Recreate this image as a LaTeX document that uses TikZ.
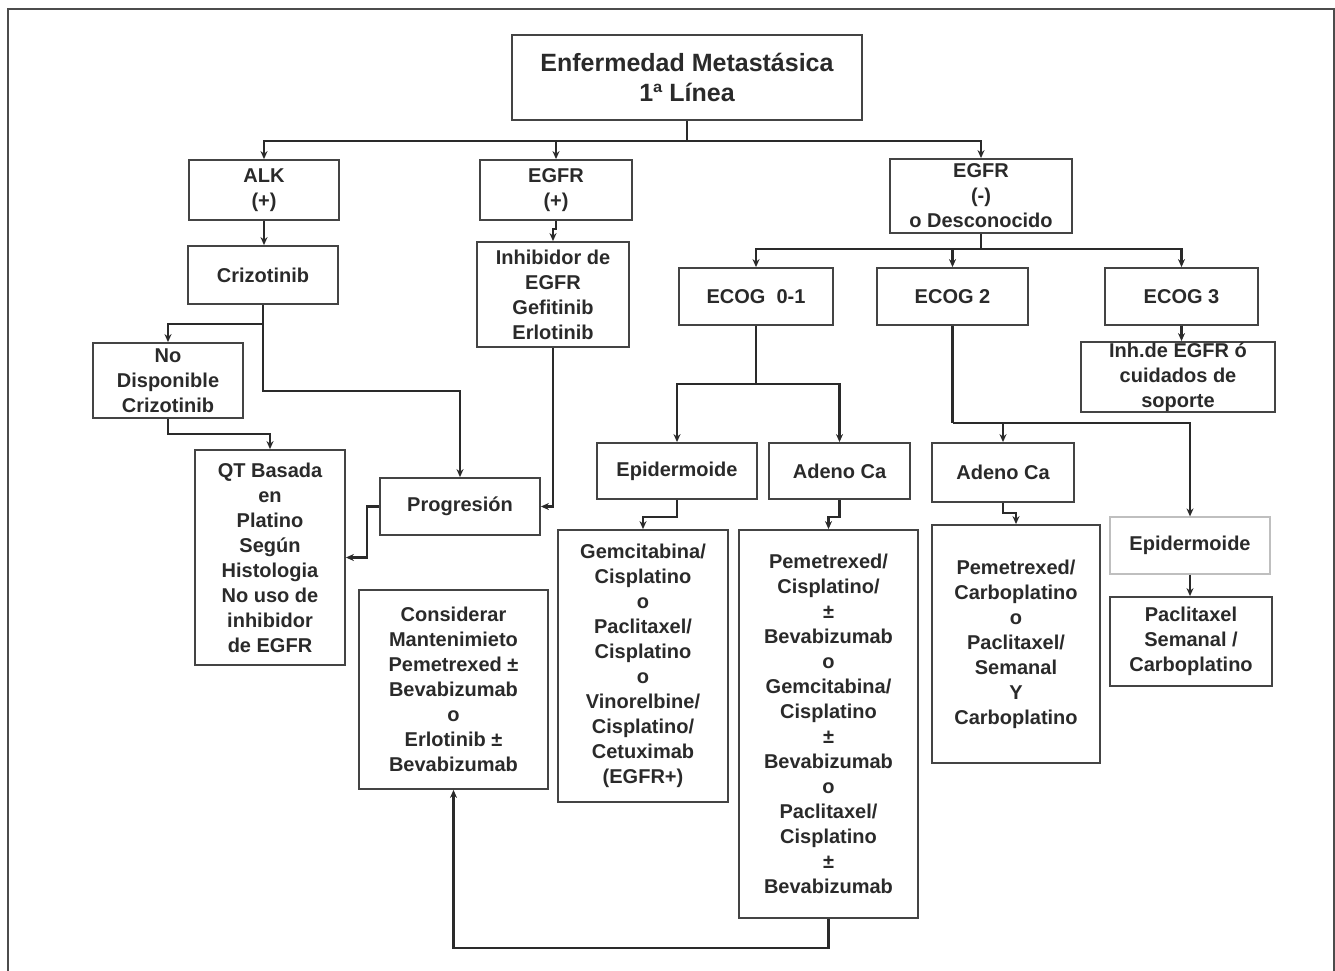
\documentclass[tikz,border=0pt]{standalone}
\usepackage{fontspec}
\setmainfont{Liberation Sans}
\usetikzlibrary{arrows.meta}
\definecolor{ink}{HTML}{2A2A2A}
\definecolor{edge}{HTML}{444444}
\begin{document}
\begin{tikzpicture}[x=1pt,y=-1pt,
  box/.style={draw=edge,line width=1.8,inner sep=0pt,align=center,text=ink,
    font=\fontsize{20}{25}\selectfont\bfseries},
  lightbox/.style={box,draw=black!25,line width=1.2},
  conn/.style={draw=ink,line width=2.2},
  arr/.style={conn,-{Stealth[length=8,width=7]}}]
\useasboundingbox (0,0) rectangle (1335,971);
\draw[line width=2,black!70] (8,971) -- (8,9) -- (1334,9) -- (1334,971);

% nodes
\node[box,minimum width=350,minimum height=85,font=\fontsize{25}{30}\selectfont\bfseries] (title) at (687,77.5) {Enfermedad Metastásica\\1ª Línea};
\node[box,minimum width=150,minimum height=60] (alk) at (264,190) {ALK\\(+)};
\node[box,minimum width=152,minimum height=60] (egfrp) at (556,190) {EGFR\\(+)};
\node[box,minimum width=182,minimum height=74] (egfrn) at (981,196) {EGFR\\(-)\\o Desconocido};
\node[box,minimum width=150,minimum height=58] (criz) at (263,275) {Crizotinib};
\node[box,minimum width=152,minimum height=105] (inh) at (553,294.5) {Inhibidor de\\EGFR\\Gefitinib\\Erlotinib};
\node[box,minimum width=150,minimum height=75] (nodisp) at (168,380.5) {No\\Disponible\\Crizotinib};
\node[box,minimum width=154,minimum height=57] (ecog01) at (756,296.5) {ECOG\ \ 0-1};
\node[box,minimum width=151,minimum height=57] (ecog2) at (952.5,296.5) {ECOG 2};
\node[box,minimum width=153,minimum height=57] (ecog3) at (1181.5,296.5) {ECOG 3};
\node[box,minimum width=194,minimum height=70] (inhs) at (1178,377) {Inh.de EGFR ó\\cuidados de\\soporte};
\node[box,minimum width=150,minimum height=215] (qt) at (270,557.5) {QT Basada\\en\\Platino\\Según\\Histologia\\No uso de\\inhibidor\\de EGFR};
\node[box,minimum width=160,minimum height=57] (prog) at (460,506.5) {Progresión};
\node[box,minimum width=189,minimum height=199] (cons) at (453.5,689.5) {Considerar\\Mantenimieto\\Pemetrexed ±\\Bevabizumab\\o\\Erlotinib ±\\Bevabizumab};
\node[box,minimum width=160,minimum height=56] (epi1) at (677,471) {Epidermoide};
\node[box,minimum width=141,minimum height=56] (ade1) at (839.5,471) {Adeno Ca};
\node[box,minimum width=142,minimum height=59] (ade2) at (1003,472.5) {Adeno Ca};
\node[box,minimum width=170,minimum height=272] (gem) at (643,666) {Gemcitabina/\\Cisplatino\\o\\Paclitaxel/\\Cisplatino\\o\\Vinorelbine/\\Cisplatino/\\Cetuximab\\(EGFR+)};
\node[box,minimum width=179,minimum height=388] (pem) at (828.5,724) {Pemetrexed/\\Cisplatino/\\±\\Bevabizumab\\o\\Gemcitabina/\\Cisplatino\\±\\Bevabizumab\\o\\Paclitaxel/\\Cisplatino\\±\\Bevabizumab};
\node[box,minimum width=168,minimum height=238] (carbo) at (1016,644) {Pemetrexed/\\Carboplatino\\o\\Paclitaxel/\\Semanal\\Y\\Carboplatino};
\node[lightbox,minimum width=160,minimum height=57] (epi2) at (1190,545.5) {Epidermoide};
\node[box,minimum width=162,minimum height=89] (pac) at (1191,641.5) {Paclitaxel\\Semanal /\\Carboplatino};

% connectors
\draw[conn] (title.south) -- ++(0,20) coordinate (tj);
\draw[arr] (tj) -| (alk.north);
\draw[arr] (tj) -| (egfrp.north);
\draw[arr] (tj) -| (egfrn.north);
\draw[arr] (alk.south) -- (alk.south |- criz.north);
\draw[arr] (egfrp.south) -- ++(0,8) -| (inh.north);
\draw[arr] (criz.south) -- ++(0,19) -| (nodisp.north);
\draw[arr] (criz.south) -- ++(0,86) -| (prog.north);
\draw[arr] (nodisp.south) -- ++(0,15) -| (qt.north);
\draw[arr] (inh.south) |- (prog.east);
\draw[arr] (prog.west) -- ++(-12,0) |- (qt.east);
\draw[conn] (egfrn.south) -- ++(0,15) coordinate (ej);
\draw[arr] (ej) -| (ecog01.north);
\draw[arr] (ej) -| (ecog2.north);
\draw[arr] (ej) -| (ecog3.north);
\draw[arr] (ecog3.south) -- (ecog3.south |- inhs.north);
\draw[conn] (ecog01.south) -- ++(0,58) coordinate (e1j);
\draw[arr] (e1j) -| (epi1.north);
\draw[arr] (e1j) -| (ade1.north);
\draw[conn] (ecog2.south) -- ++(0,97) coordinate (e2j);
\draw[arr] (e2j) -| (ade2.north);
\draw[arr] (e2j) -| (epi2.north);
\draw[arr] (epi1.south) -- ++(0,17) -| (gem.north);
\draw[arr] (ade1.south) -- ++(0,17) -| (pem.north);
\draw[arr] (ade2.south) -- ++(0,10) -| (carbo.north);
\draw[arr] (epi2.south) -- (epi2.south |- pac.north);
\draw[arr] (pem.south) -- ++(0,29) -| (cons.south);
\end{tikzpicture}
\end{document}
